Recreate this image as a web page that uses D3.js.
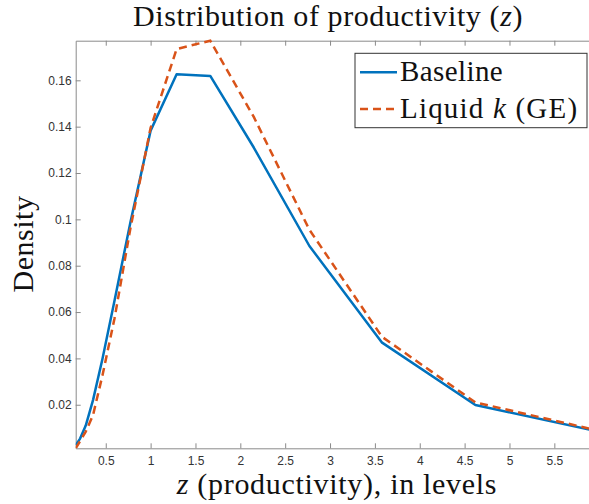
<!DOCTYPE html>
<html>
<head>
<meta charset="utf-8">
<script src="https://cdn.jsdelivr.net/npm/d3@7"></script>
<style>
  html, body { margin: 0; padding: 0; background: #fff; }
  svg { display: block; }
</style>
</head>
<body>
<svg id="chart" width="589" height="504"></svg>
<script>
// ---- data ----
const zGrid    = [0.165, 0.214, 0.277, 0.358, 0.463, 0.598, 0.775, 1.0, 1.29, 1.665, 2.15, 2.77, 3.58, 4.62, 5.96];
const baseline = [0.0025, 0.0054, 0.011, 0.022, 0.0397, 0.065, 0.0988, 0.1383, 0.1626, 0.1619, 0.131, 0.0885, 0.0468, 0.0199, 0.0087];
const liquidK  = [0.0012, 0.0043, 0.0084, 0.0155, 0.0326, 0.0573, 0.0962, 0.1395, 0.1735, 0.1771, 0.1442, 0.0955, 0.0493, 0.0210, 0.0091];
const seriesNames = ["Baseline", "Liquid k (GE)"];
const xTicks = [0.5, 1, 1.5, 2, 2.5, 3, 3.5, 4, 4.5, 5, 5.5];
const yTicks = [0.02, 0.04, 0.06, 0.08, 0.1, 0.12, 0.14, 0.16];
const xDomain = [0.165, 5.96];
const yDomain = [0.0012, 0.1771];

// ---- layout ----
const svg = d3.select("#chart");
const L = 75.7, R = 595.6, T = 40.7, B = 448.3;
const x = d3.scaleLinear().domain(xDomain).range([L, R]);
const y = d3.scaleLinear().domain(yDomain).range([B, T]);
const axisColor = "#8a8a8a";
const tickFont = "'Liberation Sans', Arial, Helvetica, sans-serif";
const serif = "'Liberation Serif', 'Times New Roman', serif";

// axes (inside ticks, box)
const gx = svg.append("g").attr("transform", `translate(0,${B})`)
  .call(d3.axisBottom(x).tickValues(xTicks).tickSizeInner(-5).tickSizeOuter(0).tickPadding(8)
        .tickFormat(d3.format("")));
const gxTop = svg.append("g").attr("transform", `translate(0,${T})`)
  .call(d3.axisTop(x).tickValues(xTicks).tickSizeInner(-5).tickSizeOuter(0).tickFormat(""));
const gy = svg.append("g").attr("transform", `translate(${L},0)`)
  .call(d3.axisLeft(y).tickValues(yTicks).tickSizeInner(-5).tickSizeOuter(0).tickPadding(4)
        .tickFormat(d3.format("")));
[gx, gxTop, gy].forEach(g => {
  g.selectAll("path.domain").attr("stroke", axisColor).attr("stroke-width", 1);
  g.selectAll(".tick line").attr("stroke", axisColor).attr("stroke-width", 1);
  g.selectAll(".tick text").attr("fill", "#333").style("font-family", tickFont).style("font-size", "12px");
});

// lines
const pts = (vals) => zGrid.map((z, i) => [z, vals[i]]);
const line = d3.line().x(d => x(d[0])).y(d => y(d[1]));
svg.append("clipPath").attr("id", "clip").append("rect")
  .attr("x", L).attr("y", T - 2).attr("width", R - L).attr("height", B - T + 2);
svg.append("path").datum(pts(baseline)).attr("d", line)
  .attr("fill", "none").attr("stroke", "#0072BD").attr("stroke-width", 2.5)
  .attr("stroke-linejoin", "round").attr("clip-path", "url(#clip)");
svg.append("path").datum(pts(liquidK)).attr("d", line)
  .attr("fill", "none").attr("stroke", "#D95319").attr("stroke-width", 2.5)
  .attr("stroke-dasharray", "8,5").attr("clip-path", "url(#clip)");

// title
const title = svg.append("text").attr("x", 328).attr("y", 26).attr("text-anchor", "middle")
  .style("font-family", serif).style("font-size", "30px").style("letter-spacing", "0.6px").attr("fill", "#111");
title.append("tspan").text("Distribution of productivity (");
title.append("tspan").style("font-style", "italic").text("z");
title.append("tspan").text(")");

// x label
const xl = svg.append("text").attr("x", 337).attr("y", 494).attr("text-anchor", "middle")
  .style("font-family", serif).style("font-size", "30px").style("letter-spacing", "0.7px").attr("fill", "#111");
xl.append("tspan").style("font-style", "italic").text("z");
xl.append("tspan").text(" (productivity), in levels");

// y label
svg.append("text").attr("transform", "translate(33,244) rotate(-90)").attr("text-anchor", "middle")
  .style("font-family", serif).style("font-size", "30px").style("letter-spacing", "0.5px")
  .attr("fill", "#111").text("Density");

// legend
const lg = svg.append("g");
lg.append("rect").attr("x", 355).attr("y", 53.3).attr("width", 232).attr("height", 74.4)
  .attr("fill", "#fff").attr("stroke", "#333").attr("stroke-width", 1);
const legendRows = [
  {name: seriesNames[0], color: "#0072BD", dash: null, ly: 72.3},
  {name: seriesNames[1], color: "#D95319", dash: "8,5", ly: 109}
];
legendRows.forEach((r, i) => {
  lg.append("line").attr("x1", 360).attr("x2", 397).attr("y1", r.ly).attr("y2", r.ly)
    .attr("stroke", r.color).attr("stroke-width", 2.5).attr("stroke-dasharray", r.dash);
  const t = lg.append("text").attr("x", 400).attr("y", r.ly + 8.5)
    .style("font-family", serif).style("font-size", "29px").attr("fill", "#111");
  if (i === 0) {
    t.style("letter-spacing", "0.4px").text(r.name);
  } else {
    t.style("letter-spacing", "1.2px");
    t.append("tspan").text("Liquid ");
    t.append("tspan").style("font-style", "italic").text("k");
    t.append("tspan").text(" (GE)");
  }
});
</script>
</body>
</html>
